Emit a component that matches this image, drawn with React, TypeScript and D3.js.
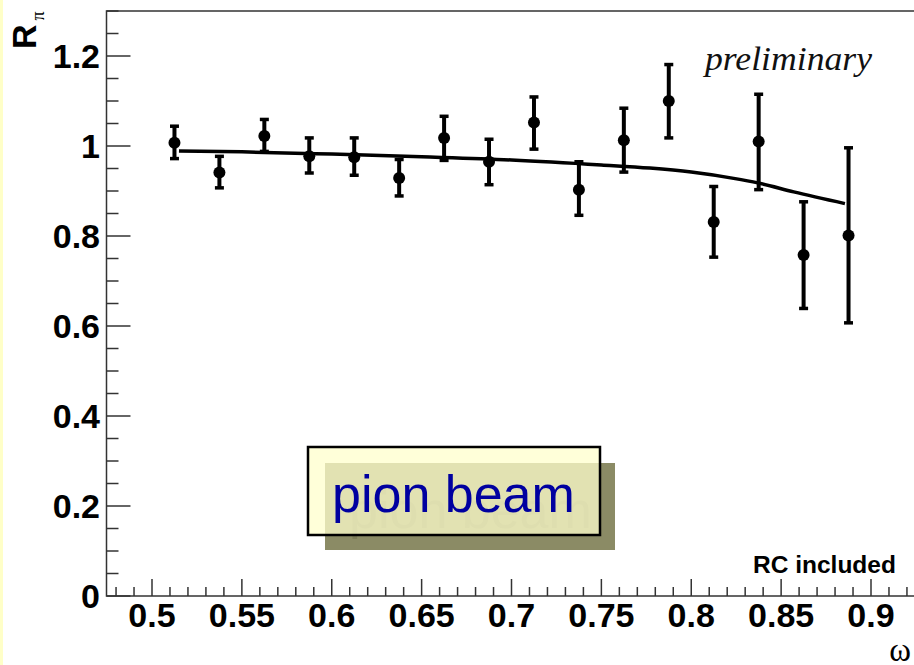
import React from "react";
import * as d3 from "d3";

const W = 914;
const H = 665;

// data: omega bin centers, R_pi values and errors
const omega = [0.5125, 0.5375, 0.5625, 0.5875, 0.6125, 0.6375, 0.6625, 0.6875, 0.7125, 0.7375, 0.7625, 0.7875, 0.8125, 0.8375, 0.8625, 0.8875];
const rpi = [1.007, 0.941, 1.022, 0.977, 0.975, 0.929, 1.018, 0.965, 1.052, 0.903, 1.013, 1.100, 0.831, 1.010, 0.758, 0.801];
const errUp = [0.037, 0.036, 0.037, 0.041, 0.043, 0.041, 0.048, 0.05, 0.057, 0.062, 0.071, 0.081, 0.079, 0.105, 0.118, 0.195];
const errDown = [0.035, 0.034, 0.034, 0.037, 0.040, 0.040, 0.05, 0.051, 0.059, 0.057, 0.071, 0.082, 0.078, 0.107, 0.119, 0.194];

// fit curve
const fitX = [0.515, 0.55, 0.6, 0.65, 0.7, 0.75, 0.777, 0.8, 0.8236, 0.837, 0.857, 0.8855];
const fitY = [0.989, 0.987, 0.982, 0.976, 0.969, 0.958, 0.951, 0.942, 0.928, 0.918, 0.898, 0.872];

const xMajor = [0.5, 0.55, 0.6, 0.65, 0.7, 0.75, 0.8, 0.85, 0.9];
const xMajorLabels = ["0.5", "0.55", "0.6", "0.65", "0.7", "0.75", "0.8", "0.85", "0.9"];
const yMajor = [0, 0.2, 0.4, 0.6, 0.8, 1.0, 1.2];
const yMajorLabels = ["0", "0.2", "0.4", "0.6", "0.8", "1", "1.2"];

export default function App() {
  const left = 106.5;
  const top = 11;
  const bottom = 596;
  const x = d3.scaleLinear().domain([0.5, 0.9]).range([152, 871]);
  const y = d3.scaleLinear().domain([0, 1.3]).range([bottom, top]);
  const xMin = x.invert(left);
  const xMax = x.invert(W + 4);

  const xMinor: number[] = [];
  for (let i = Math.ceil(xMin * 100); i <= Math.floor(xMax * 100); i++) {
    if (i % 5 !== 0) xMinor.push(i / 100);
  }
  const yMinor: number[] = [];
  for (let i = 1; i <= 26; i++) {
    if (i % 4 !== 0) yMinor.push(i * 0.05);
  }

  const line = d3
    .line<number>()
    .x((_, i) => x(fitX[i]))
    .y((d) => y(d))
    .curve(d3.curveMonotoneX);

  const sans = "'Liberation Sans', Arial, Helvetica, sans-serif";
  const serif = "'Liberation Serif', 'DejaVu Serif', serif";

  return (
    <div style={{ position: "absolute", left: 0, top: 0 }}>
      <svg width={W} height={H} style={{ display: "block" }}>
        <rect x={0} y={0} width={W} height={H} fill="#ffffff" />
        <rect x={0} y={0} width={3} height={H} fill="#ffffc8" />

        {/* frame */}
        <rect x={left} y={top} width={W + 20 - left} height={bottom - top} fill="none" stroke="#333" strokeWidth={1.5} />

        {/* y ticks */}
        {yMajor.map((v) => (
          <line key={"ym" + v} x1={left} x2={left + 24} y1={y(v)} y2={y(v)} stroke="#333" strokeWidth={1.5} />
        ))}
        {yMinor.map((v) => (
          <line key={"yn" + v} x1={left} x2={left + 12} y1={y(v)} y2={y(v)} stroke="#333" strokeWidth={1.5} />
        ))}
        {yMajor.map((v, i) => (
          <text key={"yl" + v} x={100} y={y(v) + 12} textAnchor="end" fontFamily={sans} fontWeight="bold" fontSize={34} fill="#000">
            {yMajorLabels[i]}
          </text>
        ))}

        {/* x ticks */}
        {xMajor.map((v) => (
          <line key={"xm" + v} x1={x(v)} x2={x(v)} y1={bottom} y2={bottom - 17} stroke="#333" strokeWidth={1.5} />
        ))}
        {xMinor.map((v) => (
          <line key={"xn" + v} x1={x(v)} x2={x(v)} y1={bottom} y2={bottom - 9} stroke="#333" strokeWidth={1.5} />
        ))}
        {xMajor.map((v, i) => (
          <text key={"xl" + v} x={x(v)} y={627} textAnchor="middle" fontFamily={sans} fontWeight="bold" fontSize={34} fill="#000">
            {xMajorLabels[i]}
          </text>
        ))}

        {/* axis titles */}
        <text transform="translate(36,49) rotate(-90)" fontFamily={sans} fontWeight="bold" fontSize={34} fill="#000">
          R
          <tspan dx={4} dy={8} fontSize={18} fontWeight="normal" fontFamily={serif}>
            π
          </tspan>
        </text>
        <text x={911} y={661} textAnchor="end" fontFamily={serif} fontSize={33} fill="#000">
          ω
        </text>

        {/* fit curve */}
        <path d={line(fitY) || ""} fill="none" stroke="#000" strokeWidth={3.5} />

        {/* data points */}
        {omega.map((o, i) => {
          const cx = x(o);
          const yt = y(rpi[i] + errUp[i]);
          const yb = y(rpi[i] - errDown[i]);
          return (
            <g key={"p" + i}>
              <line x1={cx} x2={cx} y1={yt} y2={yb} stroke="#000" strokeWidth={4} />
              <line x1={cx - 4.5} x2={cx + 4.5} y1={yt} y2={yt} stroke="#000" strokeWidth={3.5} />
              <line x1={cx - 4.5} x2={cx + 4.5} y1={yb} y2={yb} stroke="#000" strokeWidth={3.5} />
              <circle cx={cx} cy={y(rpi[i])} r={6} fill="#000" />
            </g>
          );
        })}

        {/* labels */}
        <text x={705} y={70} fontFamily={serif} fontStyle="italic" fontSize={33} fill="#111" textLength={167} lengthAdjust="spacingAndGlyphs">
          preliminary
        </text>
        <text x={753} y={573} fontFamily={sans} fontWeight="bold" fontSize={24.5} fill="#000">
          RC included
        </text>

        {/* pion beam box with shadow */}
        <rect x={325} y={463} width={290} height={87} fill="#8b8b65" />
        <text x={349} y={528} fontFamily={sans} fontSize={52} fill="#7c7c58">
          pion beam
        </text>
        <rect x={308} y={447} width={292} height={88} fill="#ffffcc" fillOpacity={0.75} stroke="#000" strokeWidth={2.5} />
        <text x={332} y={512} fontFamily={sans} fontSize={52} fill="#0000a0">
          pion beam
        </text>
      </svg>
    </div>
  );
}
